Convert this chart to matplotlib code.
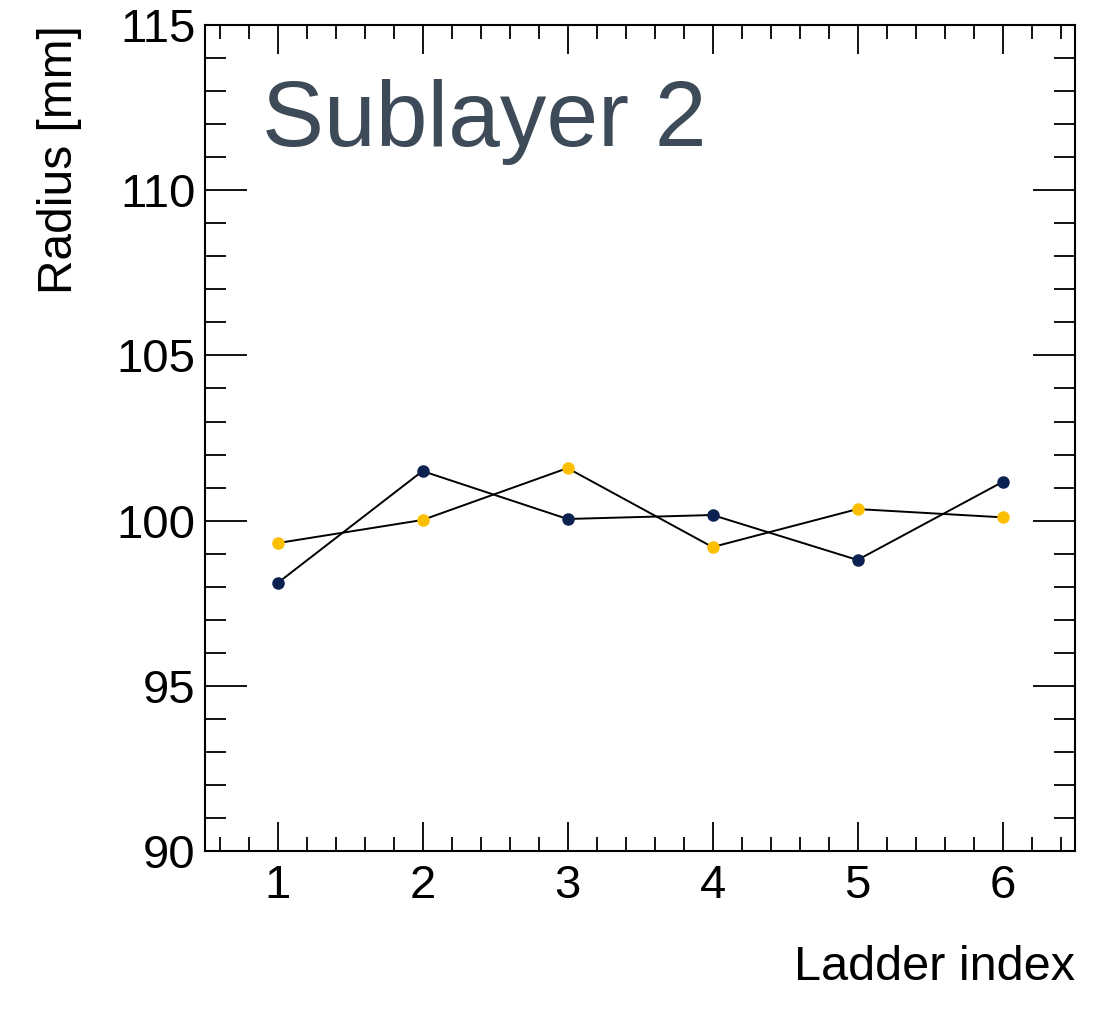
import matplotlib
matplotlib.use("Agg")
import matplotlib.pyplot as plt
from matplotlib.ticker import MultipleLocator

plt.rcParams['font.family'] = ['Liberation Sans', 'DejaVu Sans']

# Ladder positions and measured radii per ladder
ladder_index = [1, 2, 3, 4, 5, 6]
radius_navy = [98.11, 101.50, 100.05, 100.17, 98.81, 101.17]
radius_gold = [99.32, 100.02, 101.59, 99.20, 100.35, 100.10]

navy = '#0b2150'
gold = '#fcbf00'

fig = plt.figure(figsize=(11.01, 10.10), dpi=100)
ax = fig.add_axes([0.1862, 0.1574, 0.7902, 0.8178])

ax.plot(ladder_index, radius_navy, color='black', lw=1.4, zorder=2)
ax.plot(ladder_index, radius_navy, 'o', color=navy, ms=8, zorder=3)
ax.plot(ladder_index, radius_gold, color='black', lw=1.4, zorder=2)
ax.plot(ladder_index, radius_gold, 'o', color=gold, ms=8, zorder=3)

ax.set_xlim(0.5, 6.5)
ax.set_ylim(90, 115)
ax.xaxis.set_major_locator(MultipleLocator(1))
ax.xaxis.set_minor_locator(MultipleLocator(0.2))
ax.yaxis.set_major_locator(MultipleLocator(5))
ax.yaxis.set_minor_locator(MultipleLocator(1))

for side in ax.spines.values():
    side.set_linewidth(1.5)

ax.tick_params(axis='both', which='both', direction='in', top=True, right=True,
               width=1.3, labelsize=34)
ax.tick_params(axis='x', which='major', length=21, pad=9)
ax.tick_params(axis='x', which='minor', length=10)
ax.tick_params(axis='y', which='major', length=30, pad=7)
ax.tick_params(axis='y', which='minor', length=15)

ax.set_xlabel('Ladder index', fontsize=35, loc='right', labelpad=27)
ax.set_ylabel('Radius [mm]', fontsize=34.5, loc='top', labelpad=25)

ax.text(0.065, 0.935, 'Sublayer 2', transform=ax.transAxes, fontsize=67,
        color='#3d4a57', ha='left', va='top')

fig.savefig('out.png', dpi=100)
